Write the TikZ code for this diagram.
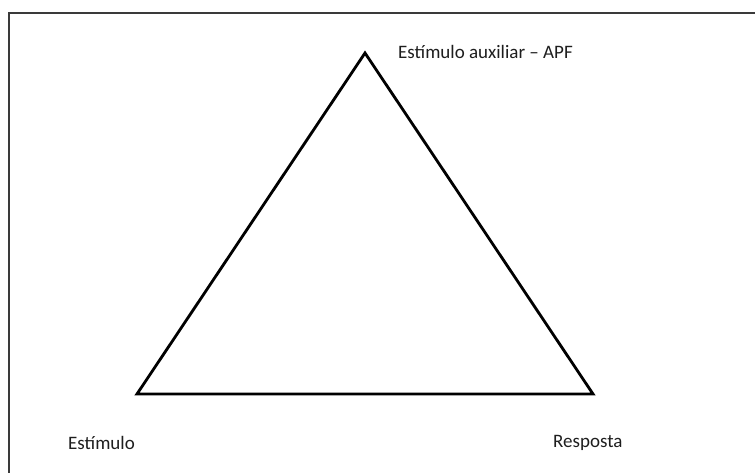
\documentclass[tikz,border=0pt]{standalone}
\usepackage{fontspec}
\setmainfont{Carlito}
\definecolor{framegray}{HTML}{3A3A3A}
\definecolor{textgray}{HTML}{1E1E1E}
\tikzset{
  frameline/.style={draw=framegray, line width=1.8pt},
  triline/.style={draw=black, line width=2.8pt, line join=miter},
  lbl/.style={anchor=base west, inner sep=0pt, text=textgray, font=\fontsize{19}{21}\selectfont}
}
\begin{document}
\begin{tikzpicture}[x=1pt,y=-1pt]
\useasboundingbox (0,0) rectangle (755,473);
\fill[white] (0,0) rectangle (755,473);
\coordinate (fbl) at (9,473);
\coordinate (ftl) at (9,13);
\coordinate (ftr) at (755,13);
\draw[frameline] (fbl) -- (ftl) -- (ftr);
\coordinate (apex) at (365,53);
\coordinate (bl) at (137,394);
\coordinate (br) at (593,394);
\draw[triline] (apex) -- (br) -- (bl) -- cycle;
\node[lbl] (aux) at (398,59) {Estímulo auxiliar – APF};
\node[lbl] (est) at (68,449) {Estímulo};
\node[lbl] (resp) at (553,447) {Resposta};
\end{tikzpicture}
\end{document}
